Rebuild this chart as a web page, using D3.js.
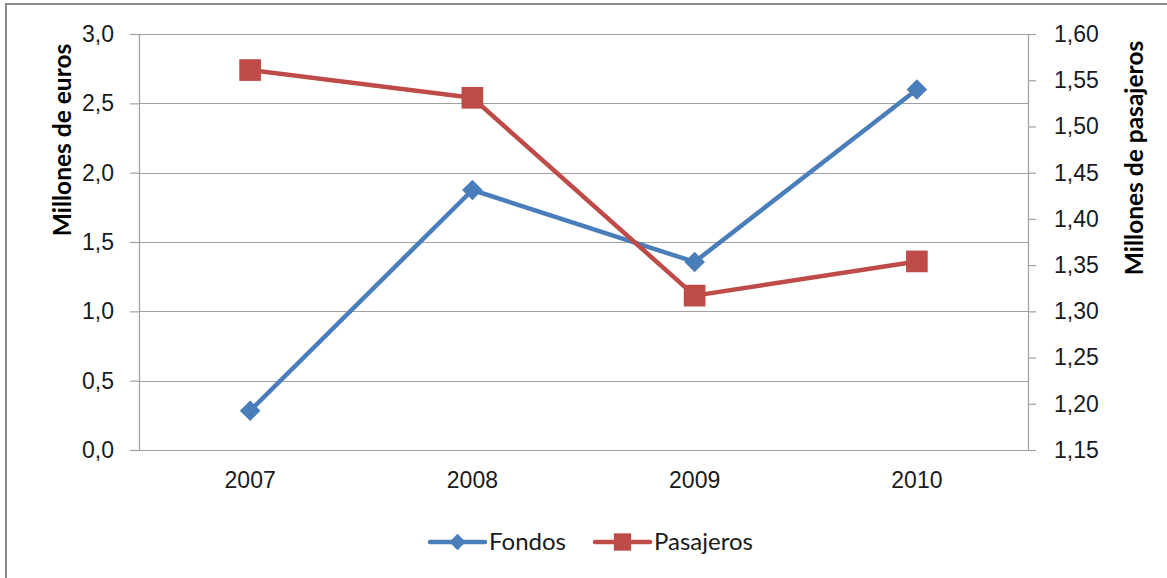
<!DOCTYPE html>
<html>
<head>
<meta charset="utf-8">
<script src="https://cdn.jsdelivr.net/npm/d3@7"></script>
<style>
	body { margin: 0; background: #fff; }
	svg { display: block; font-family: Lato, "Open Sans", sans-serif; }
</style>
</head>
<body>
<div id="chart"></div>
<script>
"use strict";

//
// Data
//
var years = ["2007", "2008", "2009", "2010"];
var fondos = [0.283, 1.875, 1.356, 2.60];
var pasajeros = [1.561, 1.531, 1.317, 1.354];
var leftTicks = [0, 0.5, 1.0, 1.5, 2.0, 2.5, 3.0];
var rightTicks = [1.15, 1.20, 1.25, 1.30, 1.35, 1.40, 1.45, 1.50, 1.55, 1.60];

//
// Setup Variables
//
var canvasWidth = 1167;
var canvasHeight = 578;
var margin = { top: 34, right: 139, bottom: 128, left: 139 };
var width = canvasWidth - margin.left - margin.right;
var height = canvasHeight - margin.top - margin.bottom;

var gridColor = "#a0a0a0";
var textColor = "#1a1a1a";
var blue = "#4a7ebb";
var red = "#be4b48";

var fmt = function(dec) {
	return function(d) { return d3.format("." + dec + "f")(d).replace(".", ","); };
};

var x = d3.scaleBand().domain(years).range([0, width]);
var yLeft = d3.scaleLinear().domain([0, 3]).range([height, 0]);
var yRight = d3.scaleLinear().domain([1.15, 1.60]).range([height, 0]);

//
// Draw Canvas
//
var root = d3.select("#chart")
	.append("svg")
		.attr("width", canvasWidth)
		.attr("height", canvasHeight);

// outer frame (only top and left visible)
root.append("path")
	.attr("d", "M6,578V4H1167")
	.attr("fill", "none")
	.attr("stroke", "#8c8c8c")
	.attr("stroke-width", 2);

var svg = root.append("g")
	.attr("transform", "translate(" + margin.left + "," + margin.top + ")");

//
// Gridlines
//
svg.append("g")
	.selectAll("line")
	.data(leftTicks)
	.enter().append("line")
		.attr("x1", 0)
		.attr("x2", width)
		.attr("y1", function(d) { return Math.round(yLeft(d)) + 0.5; })
		.attr("y2", function(d) { return Math.round(yLeft(d)) + 0.5; })
		.attr("stroke", gridColor)
		.attr("stroke-width", 1.2);

//
// Left Axis
//
var yAxisL = svg.append("g")
	.call(d3.axisLeft(yLeft).tickValues(leftTicks).tickFormat(fmt(1)).tickSize(9).tickPadding(16));
yAxisL.select(".domain").attr("stroke", gridColor).attr("stroke-width", 1.2);
yAxisL.selectAll(".tick line").attr("stroke", gridColor).attr("stroke-width", 1.2);
yAxisL.selectAll(".tick text").attr("fill", textColor).style("font-size", "23px");

//
// Right Axis
//
var yAxisR = svg.append("g")
	.attr("transform", "translate(" + width + ",0)")
	.call(d3.axisRight(yRight).tickValues(rightTicks).tickFormat(fmt(2)).tickSize(8).tickPadding(18));
yAxisR.select(".domain").attr("stroke", gridColor).attr("stroke-width", 1.2);
yAxisR.selectAll(".tick line").attr("stroke", gridColor).attr("stroke-width", 1.2);
yAxisR.selectAll(".tick text").attr("fill", textColor).style("font-size", "23px");

//
// X Axis
//
var xAxis = svg.append("g")
	.attr("transform", "translate(0," + height + ")")
	.call(d3.axisBottom(x).tickSize(0).tickPadding(22));
xAxis.select(".domain").remove();
xAxis.selectAll(".tick text").attr("fill", textColor).style("font-size", "23px");
svg.append("line")
	.attr("x1", -9).attr("x2", width + 8)
	.attr("y1", height + 0.5).attr("y2", height + 0.5)
	.attr("stroke", gridColor).attr("stroke-width", 1.2);

//
// Axis titles
//
root.append("text")
	.attr("transform", "translate(71," + (margin.top + 106) + ") rotate(-90)")
	.attr("text-anchor", "middle")
	.style("font-size", "24.5px")
	.style("font-weight", "bold")
	.attr("fill", "#000")
	.text("Millones de euros");

root.append("text")
	.attr("transform", "translate(1143," + (margin.top + 124) + ") rotate(-90)")
	.attr("text-anchor", "middle")
	.style("font-size", "24.5px")
	.style("font-weight", "bold")
	.attr("fill", "#000")
	.text("Millones de pasajeros");

//
// Lines
//
var cx = function(d, i) { return x(years[i]) + x.bandwidth() / 2; };

svg.append("path")
	.datum(fondos)
	.attr("fill", "none")
	.attr("stroke", blue)
	.attr("stroke-width", 4.5)
	.attr("stroke-linejoin", "round")
	.attr("d", d3.line().x(cx).y(function(d) { return yLeft(d); }));

svg.append("path")
	.datum(pasajeros)
	.attr("fill", "none")
	.attr("stroke", red)
	.attr("stroke-width", 4.5)
	.attr("stroke-linejoin", "round")
	.attr("d", d3.line().x(cx).y(function(d) { return yRight(d); }));

var diamond = d3.symbol().type(d3.symbolDiamond2).size(270);
var square = d3.symbol().type(d3.symbolSquare).size(470);

svg.selectAll(".fmark")
	.data(fondos)
	.enter().append("path")
		.attr("class", "fmark")
		.attr("d", diamond)
		.attr("fill", blue)
		.attr("transform", function(d, i) { return "translate(" + cx(d, i) + "," + yLeft(d) + ")"; });

svg.selectAll(".pmark")
	.data(pasajeros)
	.enter().append("path")
		.attr("class", "pmark")
		.attr("d", square)
		.attr("fill", red)
		.attr("transform", function(d, i) { return "translate(" + cx(d, i) + "," + yRight(d) + ")"; });

//
// Legend
//
var legendItems = [
	{ name: "Fondos", color: blue, symbol: d3.symbol().type(d3.symbolDiamond2).size(170), x: 430 },
	{ name: "Pasajeros", color: red, symbol: d3.symbol().type(d3.symbolSquare).size(300), x: 595 }
];

var legend = root.append("g").attr("transform", "translate(0,542)");
var item = legend.selectAll("g")
	.data(legendItems)
	.enter().append("g")
		.attr("transform", function(d) { return "translate(" + d.x + ",0)"; });
item.append("line")
	.attr("x1", 0).attr("x2", 55)
	.attr("stroke", function(d) { return d.color; })
	.attr("stroke-width", 4.5)
	.attr("stroke-linecap", "round");
item.append("path")
	.attr("d", function(d) { return d.symbol(); })
	.attr("fill", function(d) { return d.color; })
	.attr("transform", "translate(27.5,0)");
item.append("text")
	.attr("x", 59)
	.attr("dy", "0.35em")
	.attr("fill", textColor)
	.style("font-size", "24px")
	.text(function(d) { return d.name; });
</script>
</body>
</html>
